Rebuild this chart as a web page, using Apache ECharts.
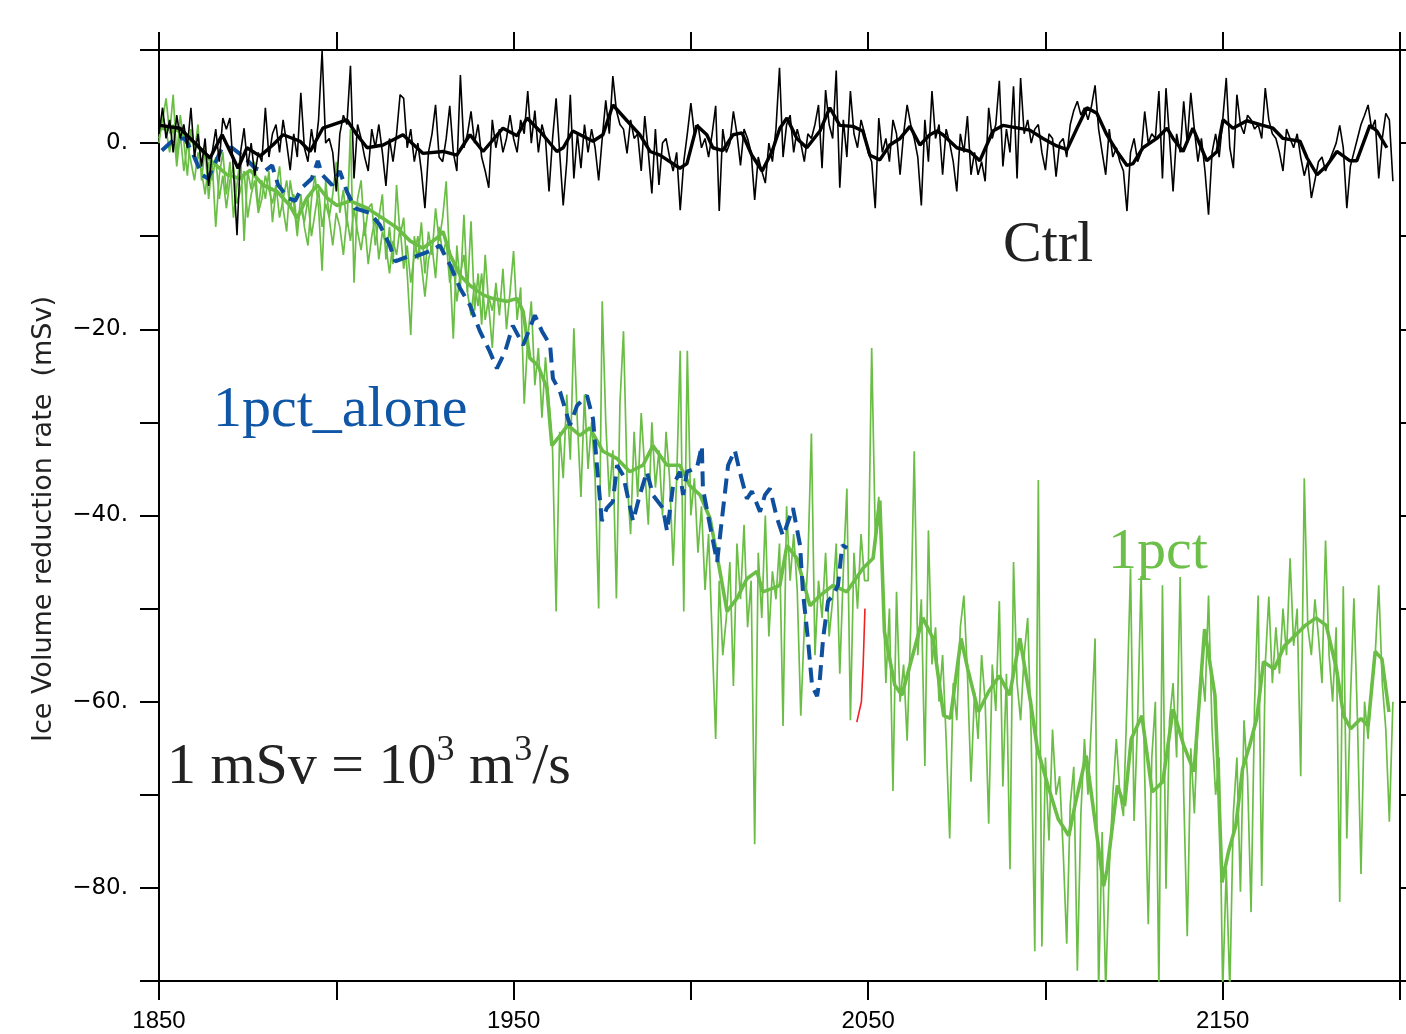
<!DOCTYPE html>
<html>
<head>
<meta charset="utf-8">
<script src="https://cdn.jsdelivr.net/npm/echarts@6/dist/echarts.min.js"></script>
<style>
html,body{margin:0;padding:0;background:#fff;}
#chart{width:1406px;height:1034px;}
</style>
</head>
<body>
<div id="chart"></div>
<script>
// ---------------- DATA ----------------
const xTickLabels = [1850, 1950, 2050, 2150];
const yTickLabels = [-80, -60, -40, -20, 0];

const ctrlStart = 1850;
const ctrlAnnual = [
 1.0, 3.8, 0.5, 2.5, -1.0, 3.0, 0.5, 2.0, -0.5, 3.8,
 -1.5, 1.0, -2.5, 0.5, -4.6, -1.0, 1.5, -2.0, 2.7, 1.5,
 2.7, -3.0, -9.9, -1.0, 1.6, -2.5, 0.0, -3.5, -1.0, -2.0,
 3.8, -1.5, 1.0, 2.0, -1.0, 2.5, 0.0, -2.9, 1.0, -1.5,
 5.4, -0.5, -2.0, 1.5, -1.0, 2.5, 9.9, 0.0, 0.5, -1.0,
 -5.2, 1.0, 3.0, 2.0, 8.3, -3.8, 2.0, 0.5, -1.5, -3.0,
 1.5, -0.5, 2.0, -1.0, -4.6, 0.5, -2.0, 1.0, 5.2, 4.8,
 -0.5, 1.5, -2.0, 0.0, -3.0, -7.0, -1.0, 1.0, 4.1, -1.5,
 -2.0, 0.5, 4.0, -1.0, -3.0, 7.3, -0.5, 1.0, 3.4, 0.0,
 2.0, -1.5, -3.0, -4.8, 2.5, -0.5, 1.5, -1.0, 0.5, 3.0,
 0.5, -1.0, 2.5, 1.0, 5.6, 0.0, 3.5, -1.0, 2.0, 0.5,
 -5.2, 0.5, 4.8, -1.0, -6.7, -2.0, 5.2, -3.8, 1.0, -2.7,
 2.0, -1.0, 1.5, -0.5, -4.0, 0.5, 4.6, 1.0, 7.2, 3.5,
 2.0, 1.5, -1.1, 2.5, 0.5, 1.0, -3.0, 2.9, -1.0, -5.4,
 1.5, -4.5, 0.0, 0.5, -1.5, -3.0, -1.0, -7.2, -2.0, 1.0,
 4.3, 1.0, 2.0, -0.5, 0.5, -1.5, 1.0, 4.0, -7.3, 1.5,
 -1.0, 0.0, 3.4, 1.0, -2.4, 1.5, 0.5, -1.0, -6.1, -1.5,
 -3.0, -4.3, 0.0, -2.0, 1.5, 8.1, -1.5, 2.0, 3.0, -1.0,
 1.5, 0.0, -2.0, 1.0, 0.5, 2.0, 4.1, -2.7, 5.7, 2.0,
 0.5, 7.8, -4.8, 2.5, -1.5, 5.6, 1.0, -0.5, 2.5, 1.0,
 -1.0, -2.0, -7.0, 2.7, -1.0, 0.5, -2.0, 2.5, 1.0, -3.4,
 1.0, 4.1, 2.0, 0.5, -1.5, -6.7, 2.5, -2.0, 5.6, 0.5,
 2.0, -3.4, 1.5, 0.0, -2.0, -5.2, 1.0, -1.0, 2.9, -3.4,
 -1.0, -3.4, -2.0, -4.1, 3.8, 0.5, 2.0, 6.7, -2.5, 1.5,
 -1.0, 6.1, -3.8, 7.0, 1.0, 2.5, 0.0, 1.5, 2.0, -1.0,
 -2.9, 1.0, 0.5, -3.6, 0.0, 0.5, -1.5, 2.0, 3.5, 4.5,
 3.0, 3.8, 2.5, 4.0, 6.2, 1.5, -1.0, -3.4, 1.5, -1.5,
 -0.5, -2.0, -3.0, -7.3, -1.0, 0.5, -2.0, -1.0, 3.4, 0.0,
 1.0, 0.5, 5.6, -3.8, 5.9, 0.5, -5.2, 1.0, -1.0, 4.5,
 0.0, 5.4, 1.5, -2.0, 0.5, -3.0, -7.7, -1.0, 1.0, -1.5,
 2.5, 7.0, -0.5, -2.7, 5.2, 2.0, 1.0, 3.0, 2.5, 1.5,
 2.0, 0.5, 5.9, 2.5, 1.0, 0.5, -1.0, -3.0, 1.5, 0.5,
 -0.5, 1.0, -1.5, -3.5, -2.0, -5.9, -4.0, -2.0, -1.5, -3.0,
 -2.0, -1.0, 0.0, 1.9, -0.5, -7.0, -2.5, -1.0, 0.5, 2.0,
 3.0, 4.1, 1.5, 2.5, -3.8, 0.5, 3.2, 2.5, -4.1
];

const ctrlSmooth = [
 [1850.3,1.9],[1855.9,1.6],[1859.6,0.2],[1864.4,-1.6],[1867.8,0.9],[1872.3,-2.7],[1874.8,-0.5],[1878.5,-1.4],
 [1882.1,-0.2],[1885.0,0.9],[1889.8,0.2],[1892.6,-0.9],[1896.2,1.6],[1903.0,2.5],[1905.8,0.9],[1908.7,-0.5],
 [1913.2,-0.2],[1918.8,0.9],[1924.4,-1.1],[1930.1,-0.9],[1934.0,-1.3],[1937.7,0.9],[1941.4,-0.9],[1947.0,1.6],
 [1951.0,0.8],[1953.8,2.7],[1957.4,1.3],[1962.2,-0.9],[1964.0,-0.5],[1966.7,1.3],[1972.4,0.2],[1975.2,0.9],
 [1978.0,4.1],[1982.0,2.4],[1985.6,0.9],[1988.5,-0.9],[1991.3,-1.3],[1996.9,-2.7],[1998.9,-2.2],[2001.7,1.9],
 [2004.5,0.9],[2006.2,-0.5],[2009.0,-0.8],[2011.9,0.9],[2014.4,1.1],[2017.2,-1.3],[2020.1,-3.0],[2022.9,-0.9],
 [2025.1,1.6],[2027.1,2.7],[2029.9,0.5],[2032.7,-0.5],[2036.4,1.3],[2039.2,3.8],[2042.0,1.9],[2045.7,1.8],
 [2048.5,1.3],[2050.5,-1.3],[2053.3,-1.8],[2056.1,-0.2],[2059.0,0.5],[2061.8,1.8],[2064.6,-0.2],[2067.4,0.9],
 [2069.4,1.3],[2071.1,0.9],[2075.0,-0.5],[2078.7,-0.9],[2081.5,-1.9],[2085.2,1.3],[2088.0,1.9],[2095.6,1.4],
 [2099.3,0.5],[2103.2,-0.3],[2106.1,-0.7],[2108.9,1.6],[2111.7,3.8],[2114.5,3.2],[2117.3,0.9],[2120.2,-0.9],
 [2123.0,-2.4],[2124.7,-2.2],[2127.5,-0.5],[2131.4,0.5],[2134.3,1.6],[2136.0,0.5],[2138.8,-0.9],[2141.6,1.6],
 [2145.5,-1.9],[2148.4,-0.9],[2150.1,2.5],[2152.9,1.6],[2156.8,2.4],[2161.3,1.9],[2164.2,1.6],[2167.0,0.5],
 [2171.8,0.2],[2173.8,-1.6],[2176.6,-3.4],[2179.4,-2.4],[2182.2,-0.9],[2185.9,-1.9],[2187.8,-1.9],[2191.5,1.9],
 [2193.5,1.3],[2196.3,-0.5]
];

const pctStart = 1850;
const pctAnnual = [
 0.5, 2.5, 4.8, 1.0, 5.2, -1.5, 3.0, 0.2, -3.5, 1.5,
 -1.0, 2.0, -4.0, -0.5, -6.0, -2.0, -9.0, -3.5, -1.0, -5.5,
 -2.0, -8.0, -4.5, -1.0, -10.5, -3.0, -5.0, -2.0, -7.0, -4.0,
 -6.0, -3.0, -8.5, -5.0, -2.5, -7.0, -9.5, -4.0, -6.5, -10.0,
 -5.5, -9.0, -11.0, -6.0, -3.5, -7.0, -13.7, -4.0, -8.0, -5.5,
 -2.0, -7.5, -5.0, -9.0, 1.5, -15.0, -6.0, -4.0, -10.0, -7.0,
 -6.5, -11.0, -8.0, -5.5, -12.5, -9.0, -13.0, -4.5, -10.0, -8.0,
 -14.0, -20.6, -10.0, -12.5, -8.5, -14.0, -9.5, -12.0, -7.0, -10.5,
 -8.0, -4.1, -13.0, -21.0, -11.0, -15.5, -7.7, -16.0, -8.4, -18.0,
 -14.0, -19.5, -12.0, -17.5, -22.0, -15.0, -18.5, -13.5, -20.0, -16.0,
 -11.6, -19.0, -15.5, -28.0, -21.0, -17.0, -26.0, -22.0, -29.5, -23.0,
 -28.0, -33.0, -50.3, -31.0, -36.0, -27.0, -34.0, -19.9, -30.0, -38.0,
 -27.0, -35.0, -30.0, -36.0, -50.0, -17.0, -30.0, -38.0, -33.0, -48.9,
 -28.0, -20.2, -36.0, -42.0, -31.0, -38.0, -29.0, -35.0, -41.0, -30.0,
 -37.0, -33.0, -40.0, -31.0, -36.0, -45.4, -36.0, -22.3, -50.3, -22.3,
 -40.0, -36.0, -44.0, -39.0, -48.0, -42.0, -53.0, -64.0, -47.0, -55.0,
 -51.0, -45.0, -58.3, -43.0, -49.0, -41.0, -52.0, -47.0, -75.3, -44.0,
 -51.0, -40.0, -53.0, -46.0, -49.0, -43.0, -62.6, -39.0, -47.0, -42.0,
 -48.0, -61.5, -52.0, -45.0, -31.2, -55.0, -47.0, -51.0, -44.0, -53.0,
 -49.0, -43.0, -57.0, -46.0, -37.1, -62.0, -44.0, -50.0, -42.0, -47.0,
 -47.0, -22.0, -42.0, -38.0, -46.0, -58.0, -50.0, -69.6, -48.2, -60.0,
 -56.0, -64.2, -52.0, -33.1, -55.0, -49.0, -66.9, -41.6, -56.0, -52.0,
 -60.0, -55.0, -64.0, -74.7, -58.0, -62.0, -52.0, -48.6, -57.0, -68.6,
 -59.0, -64.0, -55.0, -60.0, -73.1, -56.0, -61.0, -49.2, -69.1, -57.0,
 -78.0, -45.0, -58.0, -62.0, -55.0, -51.0, -64.0, -86.8, -36.2, -86.3,
 -66.0, -74.9, -63.0, -70.0, -68.0, -76.0, -86.0, -71.0, -67.0, -88.9,
 -72.0, -64.0, -70.0, -62.0, -53.2, -91.0, -74.0, -91.0, -78.0, -70.0,
 -64.0, -70.0, -72.3, -60.0, -45.7, -72.8, -62.0, -46.5, -68.0, -83.9,
 -66.0, -60.0, -91.0, -47.5, -80.1, -62.0, -58.0, -66.0, -46.6, -70.0,
 -85.2, -65.0, -72.0, -62.0, -56.0, -60.0, -48.6, -63.0, -70.0, -66.0,
 -91.0, -78.0, -91.0, -72.0, -66.0, -80.4, -62.0, -68.0, -82.6, -60.0,
 -48.6, -79.8, -56.0, -48.7, -58.0, -52.0, -57.0, -50.0, -55.0, -44.6,
 -54.0, -50.0, -68.0, -36.0, -52.0, -55.0, -49.0, -53.0, -58.0, -42.7,
 -55.0, -60.0, -52.0, -81.5, -47.6, -74.7, -60.0, -48.9, -62.0, -78.5,
 -60.0, -64.0, -58.0, -55.0, -47.5, -58.0, -63.0, -72.9, -60.0
];

const pctEarlyStart = 1850;
const pctEarly = [
 0.0, 3.0, 1.5, -1.0, 2.0, -2.5, 1.0, -3.0, 0.0, -2.0,
 -4.0, -1.0, -3.0, -5.5, -2.0, -4.0, -1.5, -6.0, -3.5, -7.0,
 -4.0, -2.5, -6.5, -5.0, -3.0, -8.0, -5.5, -4.0, -7.5, -6.0,
 -3.5, -5.0, -6.5, -4.5, -8.0, -6.0, -4.0, -7.0, -5.5, -9.0,
 -7.0, -8.5, -6.0, -10.0, -7.5, -5.0, -9.0, -6.5, -8.0, -11.0,
 -7.5, -9.0, -12.0, -8.0, -10.5, -7.0, -9.5, -11.5, -8.5, -13.0,
 -10.0, -8.0, -12.5, -9.5, -11.0, -14.0, -10.5, -12.0, -9.0, -13.5,
 -11.0, -15.0, -12.0, -10.0, -13.0, -16.5, -12.5, -11.0, -14.5, -9.0,
 -12.0, -10.5, -15.0, -13.0, -17.0, -14.0, -12.0, -16.0, -18.5, -15.0,
 -17.5, -14.0, -19.0, -16.5, -18.0, -15.5
];

const pctSmooth = [
 [1850.3,1.6],[1855.1,1.4],[1859.6,0.2],[1864.4,-1.8],[1869.2,-3.4],[1872.8,-3.8],[1875.7,-2.9],[1879.3,-4.5],
 [1883.3,-5.2],[1886.9,-6.7],[1888.9,-8.1],[1891.7,-5.9],[1894.6,-4.5],[1897.4,-5.9],[1900.2,-6.7],[1903.9,-6.2],
 [1908.7,-7.0],[1913.2,-8.1],[1917.1,-9.1],[1920.8,-10.5],[1924.4,-11.3],[1928.4,-10.2],[1930.1,-9.5],[1932.1,-12.0],
 [1934.9,-14.2],[1937.7,-15.3],[1941.4,-16.3],[1944.2,-16.7],[1948.1,-17.0],[1951.0,-16.7],[1952.7,-18.1],[1954.6,-23.1],
 [1956.9,-23.9],[1959.4,-26.3],[1960.8,-32.5],[1962.5,-31.7],[1965.3,-30.3],[1968.7,-31.4],[1971.5,-30.6],[1975.2,-33.1],
 [1979.2,-33.9],[1982.8,-35.3],[1986.5,-34.6],[1989.3,-32.5],[1993.3,-34.6],[1996.9,-34.6],[1999.7,-36.8],[2002.6,-37.8],
 [2005.4,-40.3],[2008.2,-46.0],[2010.2,-50.3],[2013.0,-48.9],[2015.8,-46.8],[2018.6,-46.0],[2020.3,-48.2],[2023.2,-47.8],
 [2025.1,-47.5],[2027.1,-43.2],[2029.9,-44.6],[2033.6,-49.7],[2036.4,-48.6],[2040.1,-47.5],[2044.0,-48.2],[2048.5,-45.7],
 [2051.4,-44.6],[2053.3,-38.4],[2054.6,-52.5],[2057.5,-58.2],[2059.5,-59.3],[2065.4,-51.0],[2068.3,-53.2],[2071.3,-61.5],
 [2073.2,-61.8],[2076.2,-53.2],[2078.1,-56.5],[2081.1,-61.1],[2084.0,-58.9],[2087.0,-57.2],[2089.9,-59.3],[2092.8,-53.2],
 [2095.8,-60.0],[2097.7,-65.0],[2100.7,-69.0],[2103.6,-72.6],[2106.6,-74.4],[2108.5,-70.8],[2111.5,-65.8],[2114.4,-74.0],
 [2116.4,-79.8],[2117.4,-78.0],[2120.3,-69.0],[2122.3,-71.2],[2124.2,-64.0],[2127.2,-61.5],[2130.1,-69.7],[2133.1,-68.6],
 [2136.0,-60.8],[2139.0,-64.7],[2141.9,-67.5],[2144.9,-52.2],[2147.8,-59.3],[2148.8,-68.6],[2149.8,-79.4],[2151.7,-76.0],
 [2153.7,-73.3],[2155.6,-67.2],[2157.6,-64.7],[2159.6,-61.8],[2161.5,-55.7],[2164.5,-56.5],[2167.4,-54.0],[2170.4,-52.9],
 [2173.3,-51.8],[2176.3,-51.0],[2179.2,-51.8],[2182.1,-56.5],[2184.1,-61.5],[2186.1,-62.9],[2189.0,-61.8],[2191.0,-62.6],
 [2193.0,-54.6],[2194.9,-55.4],[2196.9,-61.1]
];

const aloneSmooth = [
 [1850.8,-0.8],[1852.5,-0.2],[1854.5,0.5],[1857.3,0.5],[1859.3,-0.9],[1862.1,-3.4],[1863.8,-3.8],[1865.2,-2.7],
 [1867.8,-0.5],[1870.6,-0.5],[1874.3,-1.6],[1877.1,-2.7],[1879.9,-3.0],[1881.9,-2.4],[1883.6,-4.5],[1886.4,-5.9],
 [1888.4,-6.2],[1890.3,-4.8],[1893.1,-3.8],[1894.8,-1.9],[1896.0,-3.4],[1898.8,-4.5],[1901.0,-3.0],[1903.0,-5.2],
 [1905.3,-7.0],[1909.5,-7.5],[1912.3,-8.8],[1915.1,-11.0],[1916.6,-12.7],[1920.0,-12.2],[1922.2,-12.2],[1926.4,-11.6],
 [1929.2,-11.0],[1932.1,-13.1],[1934.9,-15.6],[1937.7,-17.4],[1940.5,-20.2],[1943.3,-22.4],[1945.3,-24.2],[1947.6,-22.4],
 [1949.8,-19.6],[1952.7,-21.7],[1956.0,-18.5],[1958.0,-20.2],[1960.3,-21.7],[1961.1,-25.3],[1963.1,-26.7],[1965.9,-30.3],
 [1967.9,-28.2],[1970.7,-27.1],[1972.4,-29.6],[1973.5,-34.6],[1974.9,-40.6],[1976.3,-39.2],[1978.0,-38.5],[1979.2,-34.6],
 [1980.9,-35.7],[1983.7,-40.6],[1985.6,-37.8],[1987.6,-35.3],[1989.3,-37.8],[1992.1,-39.2],[1993.3,-41.7],[1995.0,-36.8],
 [1996.9,-35.3],[1997.8,-37.8],[1998.9,-35.3],[2001.7,-34.9],[2003.1,-32.5],[2003.4,-37.1],[2005.4,-41.1],[2007.4,-45.0],
 [2009.0,-39.6],[2010.5,-34.6],[2012.4,-33.0],[2013.8,-35.3],[2015.8,-38.2],[2017.2,-37.4],[2019.5,-39.6],[2020.9,-37.8],
 [2022.3,-37.1],[2024.3,-40.3],[2026.0,-42.2],[2028.8,-39.2],[2030.8,-43.2],[2031.6,-48.2],[2033.0,-53.2],[2034.2,-58.3],
 [2035.6,-59.4],[2036.4,-57.5],[2037.3,-53.2],[2038.7,-49.2],[2040.1,-48.6],[2041.5,-47.5],[2042.7,-43.2],[2044.1,-43.5]
];

const redSegment = [[2046.8,-62.2],[2048.1,-60.0],[2048.6,-56.0],[2049.1,-50.0]];

// ---------------- CHART ----------------
const GREEN = '#6bbe45';
const BLUE = '#0e4f9e';
const toPairs = (start, arr) => arr.map((v, i) => [start + i, v]);

const chart = echarts.init(document.getElementById('chart'), null, {renderer: 'canvas'});

const axisLineStyle = {show: true, onZero: false, lineStyle: {color: '#000', width: 2}};
const tickStyle = {show: true, inside: false, length: 19, lineStyle: {color: '#000', width: 2}};

function lineSeries(name, data, color, width, extra) {
  return Object.assign({
    name: name, type: 'line', data: data, showSymbol: false, symbol: 'none',
    lineStyle: {color: color, width: width}, silent: true, animation: false, z: 2
  }, extra || {});
}

const option = {
  animation: false,
  backgroundColor: '#fff',
  grid: {left: 159, right: 6, top: 50, bottom: 53, containLabel: false},
  xAxis: [{
    type: 'value', position: 'bottom', min: 1850, max: 2200, interval: 50,
    axisLine: axisLineStyle, axisTick: tickStyle, splitLine: {show: false},
    axisLabel: {
      margin: 28, color: '#000', fontFamily: 'Liberation Sans', fontSize: 24,
      formatter: v => xTickLabels.indexOf(v) >= 0 ? String(v) : ''
    }
  }, {
    type: 'value', position: 'top', min: 1850, max: 2200, interval: 50,
    axisLine: axisLineStyle, axisTick: Object.assign({}, tickStyle, {length: 18}),
    splitLine: {show: false}, axisLabel: {show: false}
  }],
  yAxis: [{
    type: 'value', position: 'left', min: -90, max: 10, interval: 10,
    axisLine: axisLineStyle, axisTick: tickStyle, splitLine: {show: false},
    axisLabel: {
      margin: 31, color: '#000', fontFamily: 'DejaVu Sans', fontSize: 23,
      formatter: v => yTickLabels.indexOf(v) >= 0 ? (v === 0 ? '0.' : '\u2212' + Math.abs(v) + '.') : ''
    }
  }, {
    type: 'value', position: 'right', min: -90, max: 10, interval: 10,
    axisLine: axisLineStyle, axisTick: tickStyle, splitLine: {show: false},
    axisLabel: {show: false}
  }],
  series: [
    lineSeries('1pct annual', toPairs(pctStart, pctAnnual), GREEN, 1.7),
    lineSeries('1pct annual (early)', toPairs(pctEarlyStart, pctEarly), GREEN, 1.7),
    lineSeries('1pct smoothed', pctSmooth, GREEN, 3.6),
    lineSeries('red', redSegment, '#ee2222', 1.6),
    lineSeries('1pct_alone', aloneSmooth, BLUE, 4, {lineStyle: {color: BLUE, width: 4, type: [15, 8]}, z: 3}),
    lineSeries('Ctrl annual', toPairs(ctrlStart, ctrlAnnual), '#000', 1.6, {z: 4}),
    lineSeries('Ctrl smoothed', ctrlSmooth, '#000', 3.4, {z: 5}),
    {type: 'line', data: [], xAxisIndex: 1, yAxisIndex: 1, showSymbol: false}
  ],
  graphic: [
    {type: 'text', x: 44, y: 519, rotation: Math.PI / 2,
     style: {text: 'Ice Volume reduction rate  (mSv)', align: 'center', verticalAlign: 'middle',
             font: '27px "DejaVu Sans"', fill: '#222'}},
    {type: 'text', x: 1003, y: 246,
     style: {text: 'Ctrl', align: 'left', verticalAlign: 'middle', font: '58px "Liberation Serif"', fill: '#222'}},
    {type: 'text', x: 213, y: 411,
     style: {text: '1pct_alone', align: 'left', verticalAlign: 'middle', font: '58px "Liberation Serif"', fill: '#0f56a6'}},
    {type: 'text', x: 1108, y: 553,
     style: {text: '1pct', align: 'left', verticalAlign: 'middle', font: '58px "Liberation Serif"', fill: '#6cc04a'}},
    {type: 'text', x: 167, y: 768,
     style: {
       text: '{a|1 mSv = 10}{s|3}{a| m}{s|3}{a|/s}', align: 'left', verticalAlign: 'middle',
       rich: {
         a: {fontFamily: 'Liberation Serif', fontSize: 58, lineHeight: 70, fill: '#222', color: '#222'},
         s: {fontFamily: 'Liberation Serif', fontSize: 36, lineHeight: 36, verticalAlign: 'top', fill: '#222', color: '#222'}
       }
     }}
  ]
};
chart.setOption(option);
</script>
</body>
</html>
